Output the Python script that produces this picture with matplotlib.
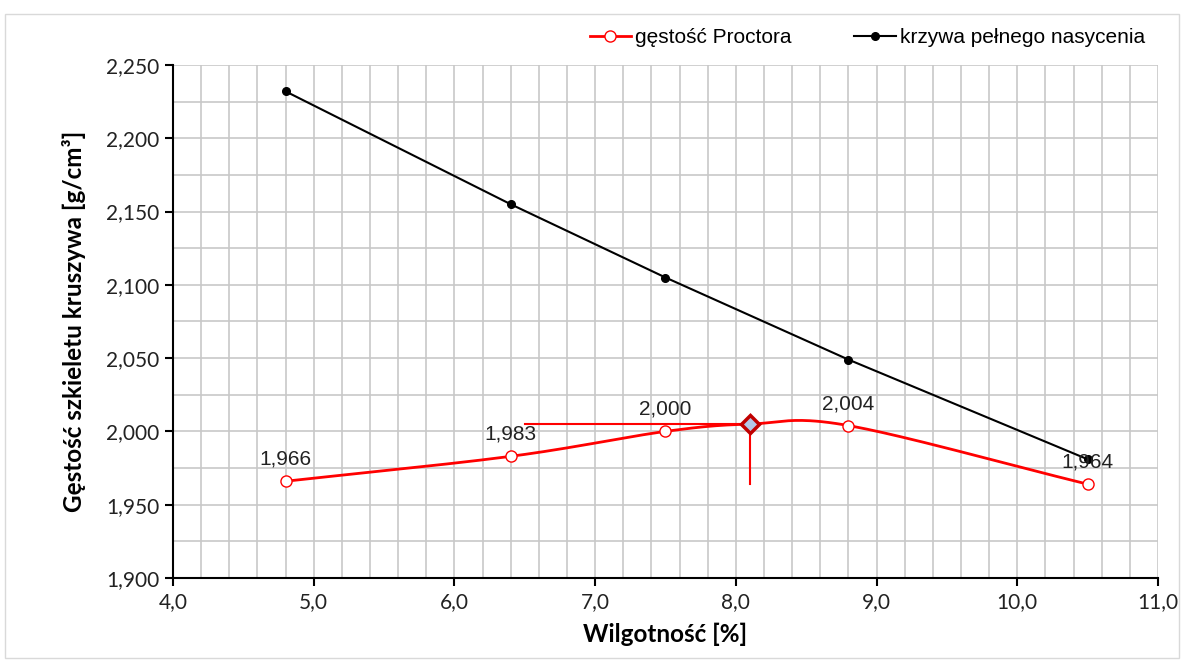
import matplotlib
matplotlib.use("Agg")
import matplotlib.pyplot as plt
import numpy as np
from matplotlib.ticker import MultipleLocator, FuncFormatter
from matplotlib.patches import Rectangle

# data
moisture = [4.8, 6.4, 7.5, 8.8, 10.5]
proctor_density = [1.966, 1.983, 2.000, 2.004, 1.964]
saturation_density = [2.232, 2.155, 2.105, 2.049, 1.981]
proctor_labels = ["1,966", "1,983", "2,000", "2,004", "1,964"]
opt_moisture = 8.1
opt_density = 2.005
guide_x_start = 6.5
guide_y_end = 1.964


def catmull_rom(xs, ys, n=40):
    # smooth line through the points, like the spreadsheet's "smoothed line"
    px = np.array(xs, float)
    py = np.array(ys, float)
    px = np.concatenate([[2 * px[0] - px[1]], px, [2 * px[-1] - px[-2]]])
    py = np.concatenate([[2 * py[0] - py[1]], py, [2 * py[-1] - py[-2]]])
    out_x, out_y = [], []
    t = np.linspace(0, 1, n)
    for i in range(1, len(px) - 2):
        for arr, out in ((px, out_x), (py, out_y)):
            p0, p1, p2, p3 = arr[i - 1], arr[i], arr[i + 1], arr[i + 2]
            seg = 0.5 * ((2 * p1) + (-p0 + p2) * t + (2 * p0 - 5 * p1 + 4 * p2 - p3) * t ** 2
                         + (-p0 + 3 * p1 - 3 * p2 + p3) * t ** 3)
            out.extend(seg)
    return np.array(out_x), np.array(out_y)


fig = plt.figure(figsize=(11.84, 6.61), dpi=100)
ax = fig.add_axes([0.1461, 0.1256, 0.978 - 0.1461, 0.9017 - 0.1256])

fig.patches.append(Rectangle((0.004, 0.004), 0.992, 0.975, transform=fig.transFigure,
                             fill=False, edgecolor="#d9d9d9", linewidth=1))

red = "#ff0000"
# smooth curve runs through the measured points and the optimum
mx = moisture[:3] + [opt_moisture] + moisture[3:]
my = proctor_density[:3] + [opt_density] + proctor_density[3:]
sx, sy = catmull_rom(mx, my)
ax.plot(sx, sy, color=red, linewidth=2, zorder=4)
ax.plot(moisture, proctor_density, linestyle="none", marker="o", markersize=8,
        markerfacecolor="white", markeredgecolor=red, markeredgewidth=1, zorder=5)
ax.plot([], [], color=red, linewidth=2, marker="o", markersize=8,
        markerfacecolor="white", markeredgecolor=red, label="gęstość Proctora")

ax.plot(moisture, saturation_density, color="black", linewidth=1.5, marker="o",
        markersize=5.5, label="krzywa pełnego nasycenia", zorder=4)

ax.plot([guide_x_start, opt_moisture], [opt_density, opt_density], color=red, linewidth=1.5, zorder=3)
ax.plot([opt_moisture, opt_moisture], [opt_density, guide_y_end], color=red, linewidth=1.5, zorder=3)
ax.plot([opt_moisture], [opt_density], marker="D", markersize=9, markerfacecolor="#b4c7e7",
        markeredgecolor="#c00000", markeredgewidth=2.5, linestyle="none", zorder=6)

for x, y, s in zip(moisture, proctor_density, proctor_labels):
    ax.annotate(s, (x, y), xytext=(0, 9), textcoords="offset points", ha="center",
                va="bottom", fontsize=15, family="Liberation Sans", color="#222222", zorder=7)

ax.set_xlim(4.0, 11.0)
ax.set_ylim(1.9, 2.25)
ax.xaxis.set_major_locator(MultipleLocator(1.0))
ax.xaxis.set_minor_locator(MultipleLocator(0.2))
ax.yaxis.set_major_locator(MultipleLocator(0.05))
ax.yaxis.set_minor_locator(MultipleLocator(0.025))
ax.xaxis.set_major_formatter(FuncFormatter(lambda v, p: f"{v:.1f}".replace(".", ",")))
ax.yaxis.set_major_formatter(FuncFormatter(lambda v, p: f"{v:.3f}".replace(".", ",")))
ax.grid(which="both", color="#c8c8c8", linewidth=1.2)
ax.set_axisbelow(True)

for side in ("top", "right"):
    ax.spines[side].set_visible(False)
for side in ("left", "bottom"):
    ax.spines[side].set_linewidth(1.5)
ax.tick_params(which="major", direction="out", length=6, width=1.5, labelsize=15, pad=4)
ax.tick_params(which="minor", length=0)
for lab in ax.get_xticklabels() + ax.get_yticklabels():
    lab.set_family("Lato")
    lab.set_color("#222222")

ax.set_xlabel("Wilgotność [%]", fontsize=17.5, fontweight="bold", family="Lato", labelpad=8)
ax.set_ylabel("Gęstość szkieletu kruszywa [g/cm³]", fontsize=17.5, fontweight="bold",
              family=["Lato", "DejaVu Sans"], labelpad=14)

ax.legend(loc="lower right", bbox_to_anchor=(1.0, 1.01), ncol=2, frameon=False,
          prop={"family": "Liberation Sans", "size": 15}, handlelength=2.0,
          columnspacing=3.0, handletextpad=0.2, borderaxespad=0.2)

fig.savefig("out.png", dpi=100, facecolor="white")
